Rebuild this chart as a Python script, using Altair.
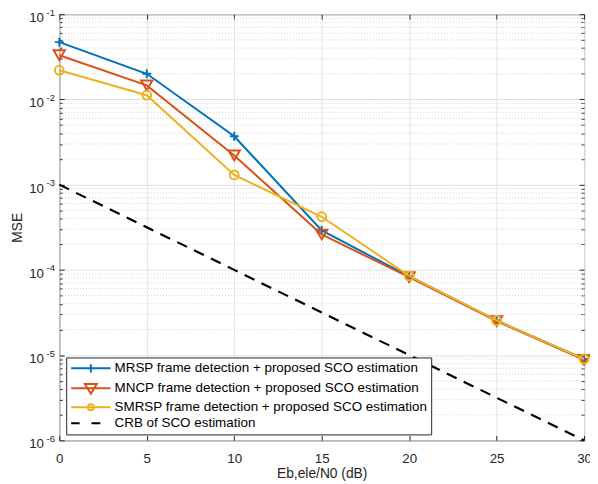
import altair as alt
import pandas as pd

# ---- data ----
x_db = [0, 5, 10, 15, 20, 25, 30]
mrsp = [0.047, 0.0200, 0.0037, 2.9e-4, 8.4e-5, 2.55e-5, 9.0e-6]
mncp = [0.033, 0.0146, 0.0022, 2.6e-4, 8.2e-5, 2.5e-5, 8.8e-6]
smrsp = [0.022, 0.0112, 0.0013, 4.2e-4, 8.5e-5, 2.55e-5, 9.0e-6]
crb = [1e-3, 3.16e-4, 1e-4, 3.16e-5, 1e-5, 3.16e-6, 1e-6]

names = [
    "MRSP frame detection + proposed SCO estimation",
    "MNCP frame detection + proposed SCO estimation",
    "SMRSP frame detection + proposed SCO estimation",
    "CRB of SCO estimation",
]
colors = ["#0072BD", "#D95319", "#EDB120", "#000000"]

x_ticks = [0, 5, 10, 15, 20, 25, 30]
y_major = [1e-6, 1e-5, 1e-4, 1e-3, 1e-2, 1e-1]
y_minor = [m * 10.0 ** e for e in range(-6, -1) for m in range(2, 10)]

FONT = "Liberation Sans"
TXT = "#262626"

series_vals = [mrsp, mncp, smrsp, crb]
rows = []
for name, vals in zip(names, series_vals):
    for xv, yv in zip(x_db, vals):
        rows.append({"x": xv, "y": yv, "series": name})
df = pd.DataFrame(rows)

xs = alt.Scale(domain=[0, 30], nice=False, zero=False)
ys = alt.Scale(type="log", domain=[1e-6, 1e-1], nice=False)


def ax(**kw):
    base = dict(labelFont=FONT, titleFont=FONT, labelColor=TXT, titleColor=TXT,
                tickColor=TXT, tickWidth=1, titleFontWeight="normal", domain=False,
                labelFlush=False, grid=False, title=None)
    base.update(kw)
    return alt.Axis(**base)


ax_x_main = ax(values=x_ticks, title="Eb,ele/N0 (dB)", grid=True, gridColor="#e4e4e4",
               tickSize=0, labelPadding=11, labelFontSize=13.5, titleFontSize=14,
               titlePadding=2.5, orient="bottom")
ax_x_bot = ax(values=x_ticks, labels=False, tickSize=5, offset=-5, orient="bottom")
ax_x_top = ax(values=x_ticks, labels=False, tickSize=5, offset=-5, orient="top")

ax_y_main = ax(values=y_major, title="MSE", grid=True, gridColor="#e0e0e0", tickSize=0,
               labelExpr="'10'", labelPadding=16, labelOffset=3.5, labelFontSize=13.5,
               titleFontSize=14, titlePadding=4, orient="left")
ax_y_exp = ax(values=y_major, tickSize=0,
              labelExpr="'-' + round(-log(datum.value)/LN10)",
              labelPadding=5, labelOffset=-2, labelFontSize=9.5, orient="left")
ax_y_majL = ax(values=y_major, labels=False, tickSize=5, offset=-5, orient="left")
ax_y_minL = ax(values=y_minor, labels=False, tickSize=3, offset=-3, orient="left")
ax_y_majR = ax(values=y_major, labels=False, tickSize=5, offset=-5, orient="right")
ax_y_minR = ax(values=y_minor, labels=False, tickSize=3, offset=-3, orient="right")


def X(a=None):
    return alt.X("x:Q", scale=xs, axis=a)


def Y(a=None):
    return alt.Y("y:Q", scale=ys, axis=a)


minor = alt.Chart(pd.DataFrame({"y": y_minor})).mark_rule(
    color="#d2d2d2", strokeDash=[1, 2], strokeWidth=1
).encode(y=Y(ax_y_main))

layers = [minor]
marker_shapes = ["M-1,0H1M0,-1V1", "triangle-down", "circle"]
marker_sizes = [81, 130, 80]
line_axes = [(ax_x_main, ax_y_exp), (ax_x_bot, ax_y_minL), (ax_x_top, ax_y_minR)]
pt_axes = [(None, ax_y_majL), (None, ax_y_majR), (None, None)]
for i, name in enumerate(names[:3]):
    sub = df[df["series"] == name]
    lx, ly = line_axes[i]
    px, py = pt_axes[i]
    ln = alt.Chart(sub).mark_line(color=colors[i], strokeWidth=2).encode(x=X(lx), y=Y(ly))
    pt = alt.Chart(sub).mark_point(color=colors[i], filled=False, strokeWidth=2,
                                   shape=marker_shapes[i], size=marker_sizes[i],
                                   opacity=1).encode(x=X(px), y=Y(py))
    layers.extend([ln, pt])

crb_df = df[df["series"] == names[3]]
layers.append(alt.Chart(crb_df).mark_line(color=colors[3], strokeWidth=2.2,
                                          strokeDash=[11, 8]).encode(x=X(), y=Y()))

legend_paths = [
    "M-3.33,0H3.33M0,-0.7V0.7",
    "M-3.33,0H3.33M-1,-0.7L1,-0.7L0,0.95Z",
    "M-3.33,0H3.33M0.5,0A0.5,0.5,0,1,1,-0.5,0A0.5,0.5,0,1,1,0.5,0",
    "M-3.33,0H-1.9M0.1,0H1.6",
]
leg = alt.Legend(orient="none", legendX=7, legendY=348, title=None,
                 labelFont=FONT, labelFontSize=13.6, labelColor="#000000",
                 strokeColor=TXT, fillColor="white", padding=4,
                 symbolSize=144, symbolStrokeWidth=2, symbolOffset=14,
                 labelOffset=17, rowPadding=2.2, symbolOpacity=1, labelLimit=0,
                 cornerRadius=0)
leg_df = pd.DataFrame({"series": names, "x": [0, 0, 0, 0],
                       "y": [v[0] for v in series_vals]})
legend_layer = alt.Chart(leg_df).mark_point(filled=False, opacity=0).encode(
    x=X(), y=Y(),
    color=alt.Color("series:N", scale=alt.Scale(domain=names, range=colors), legend=leg),
    shape=alt.Shape("series:N", scale=alt.Scale(domain=names, range=legend_paths), legend=leg),
)
layers.append(legend_layer)

chart = alt.layer(*layers).resolve_axis(x="independent", y="independent").properties(
    width=532, height=432, autosize="none",
    padding={"left": 52, "top": 3, "right": 6, "bottom": 41},
    background="white",
).configure_view(stroke=TXT, strokeWidth=1)

chart.save("out.html", embed_options={"renderer": "svg", "actions": False})
